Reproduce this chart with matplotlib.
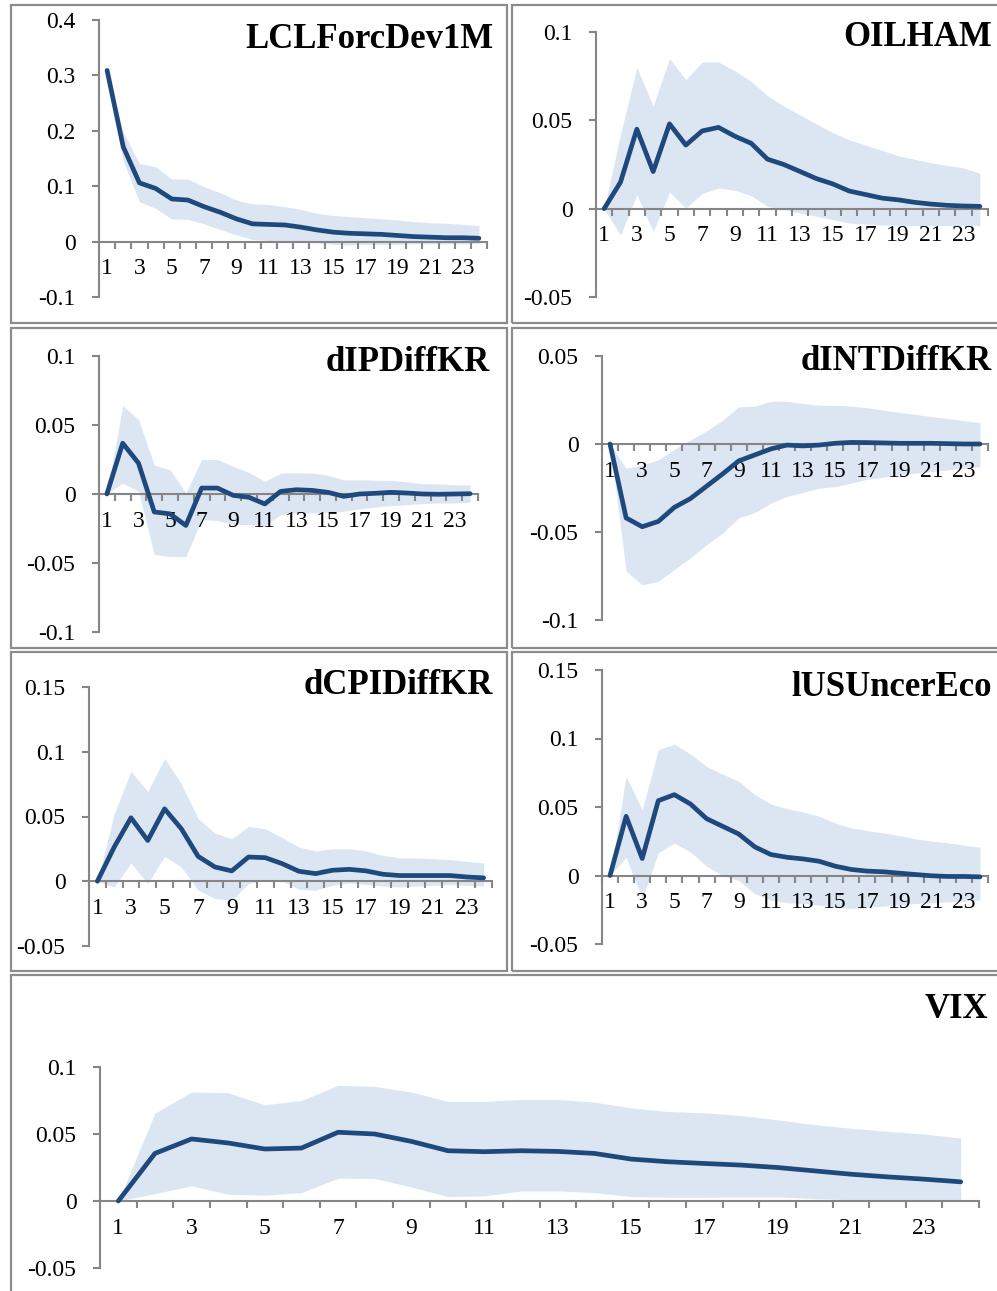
import matplotlib
matplotlib.use("Agg")
import matplotlib.pyplot as plt
from matplotlib.patches import Rectangle
import numpy as np

plt.rcParams["font.family"] = ["Liberation Serif", "DejaVu Serif"]

W, H = 997, 1291
LINE = "#1F497D"
BAND = "#DCE6F2"
AXIS = "#868686"
BORDER = "#8C8C8C"

periods = np.arange(1, 25)
x_labels = [str(p) for p in range(1, 24, 2)]

# --- impulse responses (mid) with lower / upper bands ------------------
lcl_mid = [0.309, 0.171, 0.106, 0.096, 0.077, 0.075, 0.063, 0.053, 0.041, 0.032, 0.031, 0.030,
           0.026, 0.021, 0.017, 0.015, 0.014, 0.013, 0.011, 0.009, 0.008, 0.007, 0.007, 0.006]
lcl_lo = [0.309, 0.145, 0.072, 0.060, 0.041, 0.040, 0.032, 0.022, 0.012, 0.004, 0.002, 0.002,
          0.001, -0.002, -0.005, -0.006, -0.005, -0.005, -0.005, -0.004, -0.004, -0.004, -0.004, -0.003]
lcl_hi = [0.309, 0.198, 0.141, 0.135, 0.113, 0.113, 0.099, 0.088, 0.075, 0.068, 0.067, 0.063,
          0.058, 0.051, 0.047, 0.045, 0.043, 0.041, 0.039, 0.036, 0.034, 0.033, 0.031, 0.029]

oil_mid = [0.0, 0.015, 0.045, 0.021, 0.048, 0.036, 0.044, 0.046, 0.041, 0.037, 0.028, 0.025,
           0.021, 0.017, 0.014, 0.010, 0.008, 0.006, 0.005, 0.0036, 0.0026, 0.0019, 0.0015, 0.0013]
oil_lo = [0.0, -0.015, 0.008, -0.013, 0.0094, 0.0004, 0.0085, 0.0117, 0.0104, 0.0074, 0.0013, -0.0006,
          -0.0025, -0.0043, -0.0062, -0.0081, -0.0087, -0.0092, -0.0094, -0.0096, -0.0096, -0.0096, -0.0096, -0.0096]
oil_hi = [0.0, 0.042, 0.080, 0.058, 0.085, 0.073, 0.083, 0.083, 0.078, 0.072, 0.064, 0.058,
          0.053, 0.048, 0.043, 0.039, 0.036, 0.033, 0.030, 0.028, 0.026, 0.0245, 0.023, 0.020]

dip_mid = [0.0, 0.0368, 0.0224, -0.013, -0.0144, -0.0228, 0.0043, 0.0043, -0.001, -0.0024, -0.0072, 0.0019,
           0.0031, 0.0026, 0.0012, -0.0017, 0.0, 0.0005, 0.0012, 0.0007, 0.0, -0.0002, 0.0, 0.0002]
dip_lo = [0.0, 0.008, 0.002, -0.0438, -0.0454, -0.0454, -0.0185, -0.0192, -0.0221, -0.0221, -0.0233, -0.0149,
          -0.0137, -0.0137, -0.0132, -0.0125, -0.0108, -0.0094, -0.0084, -0.0077, -0.0070, -0.0065, -0.0065, -0.006]
dip_hi = [0.0, 0.064, 0.054, 0.021, 0.0175, 0.0007, 0.025, 0.025, 0.020, 0.0156, 0.0091, 0.0151,
          0.0154, 0.0151, 0.0135, 0.0103, 0.0103, 0.0099, 0.0099, 0.0087, 0.0075, 0.0072, 0.0067, 0.0067]

dint_mid = [0.0, -0.042, -0.047, -0.044, -0.036, -0.031, -0.024, -0.017, -0.0096, -0.0062, -0.0028, -0.0006,
            -0.0011, -0.0006, 0.0004, 0.0009, 0.0008, 0.0006, 0.0004, 0.0004, 0.0004, 0.0002, 0.0, 0.0]
dint_lo = [0.0, -0.0723, -0.080, -0.078, -0.0713, -0.0647, -0.0572, -0.0506, -0.042, -0.0389, -0.0336, -0.0298,
           -0.0275, -0.0251, -0.0242, -0.0223, -0.020, -0.0189, -0.0175, -0.0166, -0.0157, -0.0147, -0.0138, -0.0128]
dint_hi = [0.0, -0.0138, -0.0119, -0.009, -0.003, 0.0023, 0.0074, 0.0136, 0.0211, 0.0215, 0.0243, 0.0243,
           0.023, 0.022, 0.022, 0.0215, 0.0206, 0.0192, 0.0179, 0.0168, 0.0155, 0.0145, 0.0132, 0.0121]

dcpi_mid = [0.0, 0.0264, 0.049, 0.0315, 0.0559, 0.0405, 0.0192, 0.011, 0.008, 0.0187, 0.0182, 0.0136,
            0.0077, 0.0059, 0.0085, 0.0092, 0.008, 0.0054, 0.0044, 0.0044, 0.0044, 0.0044, 0.0033, 0.0026]
dcpi_lo = [0.0, -0.0044, 0.0141, -0.0018, 0.0192, 0.011, -0.0069, -0.0133, -0.0146, -0.0018, 0.0015, 0.0003,
           -0.0062, -0.0069, -0.0031, -0.0013, -0.0026, -0.0038, -0.0044, -0.0038, -0.0031, -0.0026, -0.0031, -0.0036]
dcpi_hi = [0.0, 0.052, 0.0849, 0.0692, 0.0949, 0.0751, 0.0482, 0.0372, 0.0328, 0.0423, 0.0405, 0.0336,
           0.0264, 0.0233, 0.0251, 0.0251, 0.0233, 0.020, 0.018, 0.018, 0.0174, 0.0167, 0.0154, 0.0141]

unc_mid = [0.0, 0.0432, 0.0124, 0.0546, 0.059, 0.0522, 0.0415, 0.0359, 0.0303, 0.0209, 0.0153, 0.0133,
           0.0121, 0.0104, 0.0068, 0.0044, 0.0032, 0.0027, 0.0017, 0.0007, -0.0002, -0.0007, -0.0007, -0.001]
unc_lo = [0.0, 0.0133, -0.017, 0.0165, 0.0238, 0.0172, 0.0068, 0.0, -0.0036, -0.0133, -0.018, -0.0199,
          -0.0204, -0.0216, -0.0231, -0.024, -0.0231, -0.0223, -0.0216, -0.0204, -0.0199, -0.0192, -0.0187, -0.018]
unc_hi = [0.0, 0.0723, 0.048, 0.0917, 0.0959, 0.0886, 0.0796, 0.074, 0.0687, 0.059, 0.0522, 0.0488,
          0.0464, 0.0432, 0.0383, 0.0347, 0.0328, 0.0311, 0.0291, 0.0267, 0.025, 0.0238, 0.0221, 0.0206]

vix_mid = [0.0, 0.0355, 0.0463, 0.0433, 0.0388, 0.0395, 0.0513, 0.050, 0.0445, 0.0375, 0.0368, 0.0375,
           0.037, 0.0355, 0.0313, 0.0293, 0.028, 0.0268, 0.025, 0.0225, 0.020, 0.018, 0.0163, 0.0143]
vix_lo = [0.0, 0.0055, 0.0113, 0.005, 0.0043, 0.0063, 0.017, 0.0168, 0.0105, 0.0033, 0.0038, 0.0075,
          0.0075, 0.0063, 0.0033, 0.0028, 0.0028, 0.003, 0.003, 0.0018, 0.001, 0.0005, 0.0003, 0.0]
vix_hi = [0.0, 0.0655, 0.0813, 0.0808, 0.0718, 0.075, 0.0863, 0.0855, 0.0813, 0.0743, 0.0743, 0.0758,
          0.0758, 0.0738, 0.0695, 0.0668, 0.0658, 0.0638, 0.0605, 0.057, 0.0543, 0.052, 0.050, 0.047]

titles = ["LCLForcDev1M", "OILHAM", "dIPDiffKR", "dINTDiffKR", "dCPIDiffKR", "lUSUncerEco", "VIX"]
series = [(lcl_mid, lcl_lo, lcl_hi), (oil_mid, oil_lo, oil_hi), (dip_mid, dip_lo, dip_hi),
          (dint_mid, dint_lo, dint_hi), (dcpi_mid, dcpi_lo, dcpi_hi), (unc_mid, unc_lo, unc_hi),
          (vix_mid, vix_lo, vix_hi)]
yticks = [[-0.1, 0.0, 0.1, 0.2, 0.3, 0.4],
          [-0.05, 0.0, 0.05, 0.1],
          [-0.1, -0.05, 0.0, 0.05, 0.1],
          [-0.1, -0.05, 0.0, 0.05],
          [-0.05, 0.0, 0.05, 0.1, 0.15],
          [-0.05, 0.0, 0.05, 0.1, 0.15],
          [-0.05, 0.0, 0.05, 0.1]]

# layout in pixels: axes box (x0, y0, x1, y1), title anchor (right x, centre y), frame box
axes_px = [(99, 20, 487, 297), (596, 32, 988, 297),
           (99, 356, 478, 632), (602, 356, 988, 620),
           (89, 687, 492, 946), (602, 670, 988, 944),
           (100, 1067, 979, 1268)]
title_px = [(493, 40), (992, 37), (490, 363), (992, 362), (493, 685), (992, 687), (988, 1010)]
frames_px = [(11, 5, 507, 323), (512, 5, 1005, 323),
             (11, 328, 507, 648), (512, 328, 1005, 648),
             (11, 652, 507, 971), (512, 652, 1005, 971),
             (11, 975, 1005, 1300)]


def frac_box(x0, y0, x1, y1):
    return [x0 / W, 1 - y1 / H, (x1 - x0) / W, (y1 - y0) / H]


fig = plt.figure(figsize=(W / 100, H / 100), dpi=100)

for (fx0, fy0, fx1, fy1) in frames_px:
    fig.add_artist(Rectangle((fx0 / W, 1 - fy1 / H), (fx1 - fx0) / W, (fy1 - fy0) / H,
                             transform=fig.transFigure, fill=False, edgecolor=BORDER, lw=1.6))

for title, (mid, lo, hi), yt, box, tpos in zip(titles, series, yticks, axes_px, title_px):
    ax = fig.add_axes(frac_box(*box))
    ax.fill_between(periods, lo, hi, color=BAND, lw=0, zorder=1)
    ax.plot(periods, mid, color=LINE, lw=3.4, solid_capstyle="round",
            solid_joinstyle="round", zorder=3)
    ax.set_xlim(0.5, 24.5)
    ax.set_ylim(yt[0], yt[-1])

    for s in ("top", "right"):
        ax.spines[s].set_visible(False)
    ax.spines["bottom"].set_position(("data", 0))
    for s in ("left", "bottom"):
        ax.spines[s].set_color(AXIS)
        ax.spines[s].set_linewidth(1.5)

    ax.set_yticks(yt)
    ax.set_yticklabels([f"{v:g}" for v in yt])
    ax.tick_params(axis="y", direction="out", length=5, width=1.5, color=AXIS,
                   pad=12, labelsize=17)

    ax.set_xticks(np.arange(0.5, 25, 1.0))
    ax.set_xticklabels([])
    ax.set_xticks(np.arange(1, 24, 2), minor=True)
    ax.set_xticklabels(x_labels, minor=True)
    ax.tick_params(axis="x", which="major", direction="out", length=5, width=1.5, color=AXIS)
    ax.tick_params(axis="x", which="minor", length=0, pad=12, labelsize=17)

    fig.text(tpos[0] / W, 1 - tpos[1] / H, title, ha="right", va="center",
             fontsize=25, fontweight="bold")

fig.savefig("out.png", dpi=100)
